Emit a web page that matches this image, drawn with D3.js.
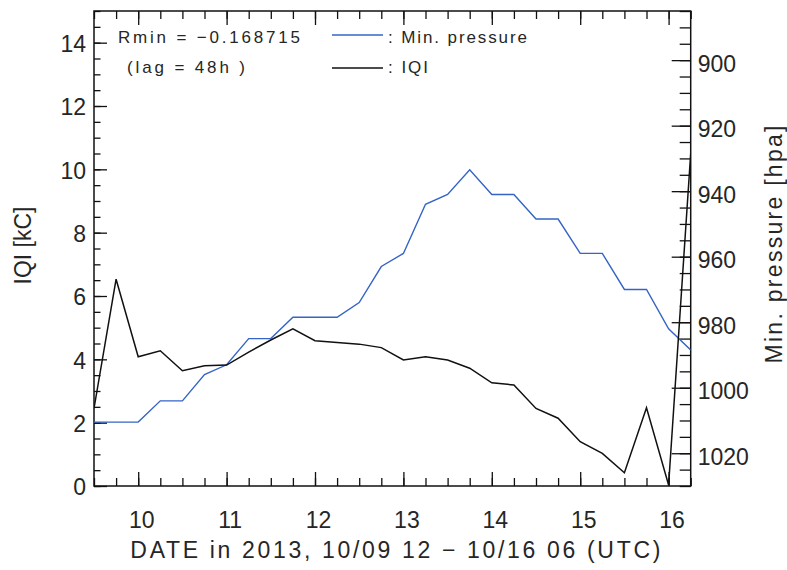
<!DOCTYPE html>
<html><head><meta charset="utf-8">
<script src="https://cdn.jsdelivr.net/npm/d3@7"></script>
<style>
html,body{margin:0;padding:0;background:#fff;}
svg{display:block;}
text{font-family:"Liberation Sans",Arial,sans-serif;fill:#262626;}
</style></head>
<body>
<svg id="chart" width="787" height="570"></svg>
<script>
// ---- data (6-hourly, 2013-10-09 12UTC .. 2013-10-16 06UTC) ----
const times = [
 "2013-10-09T12:00Z","2013-10-09T18:00Z","2013-10-10T00:00Z","2013-10-10T06:00Z",
 "2013-10-10T12:00Z","2013-10-10T18:00Z","2013-10-11T00:00Z","2013-10-11T06:00Z",
 "2013-10-11T12:00Z","2013-10-11T18:00Z","2013-10-12T00:00Z","2013-10-12T06:00Z",
 "2013-10-12T12:00Z","2013-10-12T18:00Z","2013-10-13T00:00Z","2013-10-13T06:00Z",
 "2013-10-13T12:00Z","2013-10-13T18:00Z","2013-10-14T00:00Z","2013-10-14T06:00Z",
 "2013-10-14T12:00Z","2013-10-14T18:00Z","2013-10-15T00:00Z","2013-10-15T06:00Z",
 "2013-10-15T12:00Z","2013-10-15T18:00Z","2013-10-16T00:00Z","2013-10-16T06:00Z"];
const minPressure = [1010.5,1010.5,1010.5,1004,1004,996,993,985,985,978.5,978.5,978.5,
 974,963,959,944,941,933.5,941,941,948.5,948.5,959,959,970,970,982,988.5];
const iqi = [2.45,6.53,4.08,4.27,3.64,3.80,3.82,4.23,4.61,4.96,4.59,4.53,
 4.48,4.37,3.98,4.08,3.98,3.72,3.26,3.19,2.45,2.14,1.40,1.03,0.42,2.47,0.03,10.5];

const xTickDates = ["2013-10-10T00:00Z","2013-10-11T00:00Z","2013-10-12T00:00Z","2013-10-13T00:00Z",
 "2013-10-14T00:00Z","2013-10-15T00:00Z","2013-10-16T00:00Z"];
const xTickLabels = ["10","11","12","13","14","15","16"];
const yLeftTicks = [0,2,4,6,8,10,12,14];
const yRightTicks = [900,920,940,960,980,1000,1020];

const legendText1 = "Rmin = \u22120.168715";
const legendText2 = "(lag = 48h )";
const seriesNames = [": Min. pressure", ": IQI"];
const xTitle = "DATE in 2013, 10/09 12 \u2212 10/16 06 (UTC)";
const yLeftTitle = "IQI [kC]";
const yRightTitle = "Min. pressure [hpa]";

// ---- layout ----
const L=94, R=690.7, T=11, B=486;
const blue = "#3464c6";
const ink = "#262626";
const svg = d3.select("#chart");

const x = d3.scaleUtc()
  .domain([new Date("2013-10-09T12:00Z"), new Date("2013-10-16T06:00Z")])
  .range([L, R]);
const yL = d3.scaleLinear().domain([0, 15]).range([B, T]);
const yR = d3.scaleLinear().domain([1030, 885]).range([B, T]);

const tDates = times.map(s => new Date(s));
const majorX = xTickDates.map(s => new Date(s));
const minorX = d3.utcHour.every(6).range(new Date("2013-10-09T12:00Z"), new Date("2013-10-16T06:01Z"));

function styleAxis(g){
  g.select(".domain").remove();
  g.selectAll("line").attr("stroke","#111").attr("stroke-width",1.3);
  g.selectAll("text").attr("font-size",23).attr("fill",ink)
   .attr("font-family","Liberation Sans, Arial, sans-serif");
}

// bottom
svg.append("g").attr("transform",`translate(0,${B})`)
  .call(d3.axisBottom(x).tickValues(minorX).tickSize(-8).tickFormat("")).call(styleAxis);
svg.append("g").attr("transform",`translate(0,${B})`)
  .call(d3.axisBottom(x).tickValues(majorX).tickSize(-14).tickPadding(26)
        .tickFormat((d,i)=>xTickLabels[i])).call(styleAxis)
  .selectAll("text").attr("dx", 3);
// top
svg.append("g").attr("transform",`translate(0,${T})`)
  .call(d3.axisTop(x).tickValues(minorX).tickSize(-8).tickFormat("")).call(styleAxis);
svg.append("g").attr("transform",`translate(0,${T})`)
  .call(d3.axisTop(x).tickValues(majorX).tickSize(-14).tickFormat("")).call(styleAxis);
// left
svg.append("g").attr("transform",`translate(${L},0)`)
  .call(d3.axisLeft(yL).tickValues(d3.range(0,15.01,0.5)).tickSize(-6.5).tickFormat("")).call(styleAxis);
svg.append("g").attr("transform",`translate(${L},0)`)
  .call(d3.axisLeft(yL).tickValues(yLeftTicks).tickSize(-13).tickPadding(8)
        .tickFormat(d=>String(d))).call(styleAxis)
  .selectAll("text").attr("dy","0.38em");
// right
svg.append("g").attr("transform",`translate(${R},0)`)
  .call(d3.axisRight(yR).tickValues(d3.range(885,1030.1,5)).tickSize(-11).tickFormat("")).call(styleAxis);
svg.append("g").attr("transform",`translate(${R},0)`)
  .call(d3.axisRight(yR).tickValues(yRightTicks).tickSize(-19).tickPadding(7)
        .tickFormat(d=>String(d))).call(styleAxis)
  .selectAll("text").attr("dy","0.48em");

// plot box
svg.append("rect").attr("x",L).attr("y",T).attr("width",R-L).attr("height",B-T)
  .attr("fill","none").attr("stroke","#111").attr("stroke-width",1.5);

// clip
svg.append("clipPath").attr("id","clip").append("rect")
  .attr("x",L).attr("y",T).attr("width",R-L).attr("height",B-T);

// series
const lineP = d3.line().x((d,i)=>x(tDates[i])).y(d=>yR(d));
const lineQ = d3.line().x((d,i)=>x(tDates[i])).y(d=>yL(d));
svg.append("path").datum(minPressure).attr("d",lineP).attr("clip-path","url(#clip)")
  .attr("fill","none").attr("stroke",blue).attr("stroke-width",1.4);
svg.append("path").datum(iqi).attr("d",lineQ).attr("clip-path","url(#clip)")
  .attr("fill","none").attr("stroke","#111").attr("stroke-width",1.5);

// legend
svg.append("text").attr("x",118).attr("y",42.5).attr("font-size",17)
  .attr("textLength",182).attr("lengthAdjust","spacing").text(legendText1);
svg.append("text").attr("x",127).attr("y",72.5).attr("font-size",17)
  .attr("textLength",118).attr("lengthAdjust","spacing").text(legendText2);
svg.append("line").attr("x1",332).attr("x2",383).attr("y1",35).attr("y2",35)
  .attr("stroke",blue).attr("stroke-width",1.5);
svg.append("line").attr("x1",332).attr("x2",383).attr("y1",68).attr("y2",68)
  .attr("stroke","#111").attr("stroke-width",1.5);
svg.append("text").attr("x",388).attr("y",42.5).attr("font-size",17)
  .attr("textLength",139).attr("lengthAdjust","spacing").text(seriesNames[0]);
svg.append("text").attr("x",388).attr("y",72.5).attr("font-size",17)
  .attr("textLength",40).attr("lengthAdjust","spacing").text(seriesNames[1]);

// axis titles
svg.append("text").attr("x",(L+R)/2+3).attr("y",558).attr("font-size",23)
  .attr("text-anchor","middle").attr("textLength",530).attr("lengthAdjust","spacing").text(xTitle);
svg.append("text").attr("transform",`translate(31,${(T+B)/2-3}) rotate(-90)`)
  .attr("font-size",23).attr("text-anchor","middle").text(yLeftTitle);
svg.append("text").attr("transform",`translate(782,${(T+B)/2-4}) rotate(-90)`)
  .attr("font-size",23).attr("text-anchor","middle").attr("textLength",238)
  .attr("lengthAdjust","spacing").text(yRightTitle);
</script>
</body></html>
